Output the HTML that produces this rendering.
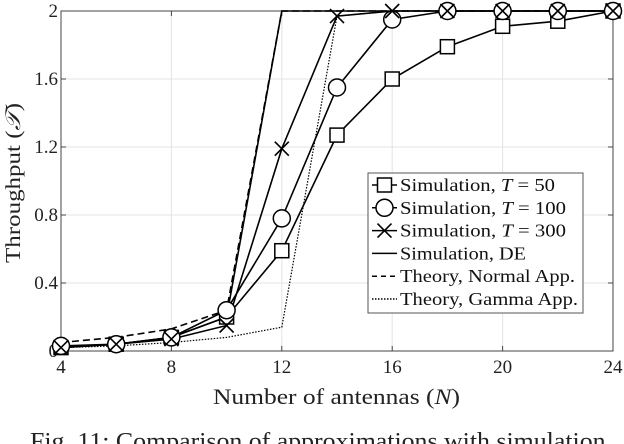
<!DOCTYPE html>
<html><head><meta charset="utf-8"><style>
body{margin:0;background:#fff;width:624px;height:444px;overflow:hidden}
svg{display:block;font-family:"Liberation Serif",serif}
</style></head><body>
<svg id="chart" width="624" height="444" viewBox="0 0 624 444"></svg>
<script>
const xCats=[4,6,8,10,12,14,16,18,20,22,24];
const simT50=[0.02,0.04,0.08,0.2,0.59,1.27,1.6,1.79,1.91,1.94,2];
const simT100=[0.03,0.04,0.08,0.24,0.78,1.55,1.95,2,2,2,2];
const simT300=[0.02,0.04,0.07,0.15,1.19,1.97,2,2,2,2,2];
const simDE=[0.02,0.04,0.08,0.2,2,2,2,2,2,2,2];
const theoryNormal=[0.05,0.08,0.13,0.24,2,2,2,2,2,2,2];
const theoryGamma=[0.02,0.03,0.05,0.08,0.14,1.97,2,2,2,2,2];
const xTicks=[4,8,12,16,20,24];
const yTicks=[0,0.4,0.8,1.2,1.6,2];
const yTickLabels=["0","0.4","0.8","1.2","1.6","2"];

const svg=document.getElementById('chart');
const NS='http://www.w3.org/2000/svg';
const L=61,R=613,T=11,B=351;
const xs=v=>L+(v-4)/20*(R-L);
const ys=v=>B-v/2*(B-T);
function mk(tag,attrs,parent){const e=document.createElementNS(NS,tag);for(const k in attrs)e.setAttribute(k,attrs[k]);(parent||svg).appendChild(e);return e;}

const grid=mk('g',{});


xTicks.forEach(v=>mk('line',{x1:xs(v),x2:xs(v),y1:T,y2:B,stroke:'#e3e3e3','stroke-width':1},grid));
yTicks.forEach(v=>mk('line',{x1:L,x2:R,y1:ys(v),y2:ys(v),stroke:'#e3e3e3','stroke-width':1},grid));

const axes=mk('g',{});


mk('rect',{x:L,y:T,width:R-L,height:B-T,fill:'none',stroke:'#444','stroke-width':1},axes);
xTicks.forEach(v=>{
 mk('line',{x1:xs(v),x2:xs(v),y1:B,y2:B-5,stroke:'#444'},axes);
 mk('line',{x1:xs(v),x2:xs(v),y1:T,y2:T+5,stroke:'#444'},axes);
 const t=mk('text',{x:xs(v),y:B+22,'text-anchor':'middle','font-size':19,fill:'#222'},axes);t.textContent=v;
 
 
});
yTicks.forEach((v,i)=>{
 mk('line',{x1:L,x2:L+5,y1:ys(v),y2:ys(v),stroke:'#444'},axes);
 mk('line',{x1:R,x2:R-5,y1:ys(v),y2:ys(v),stroke:'#444'},axes);
 const t=mk('text',{x:L-3,y:ys(v)+6,'text-anchor':'end','font-size':19,fill:'#222'},axes);t.textContent=yTickLabels[i];
 
 
});
const xt=mk('text',{x:213,y:404,'font-size':22,fill:'#222',textLength:247,lengthAdjust:'spacingAndGlyphs'});
xt.innerHTML='Number of antennas (<tspan font-style="italic">N</tspan>)';


const yt=mk('text',{x:0,y:0,transform:'translate(20,183) rotate(-90)','text-anchor':'middle','font-size':21,fill:'#222',textLength:160,lengthAdjust:'spacingAndGlyphs'});
yt.innerHTML='Throughput (<tspan font-style="italic">𝒯</tspan>)';


const cap=mk('text',{x:30,y:449,'font-size':24,fill:'#222',textLength:582,lengthAdjust:'spacingAndGlyphs'});
cap.textContent='Fig. 11: Comparison of approximations with simulation.';



function line(vals,dash,w,name){
 const p=mk('polyline',{points:vals.map((v,i)=>xs(xCats[i])+','+ys(v)).join(' '),fill:'none',stroke:'#000','stroke-width':w,'stroke-dasharray':dash||'none'});
 
 
}
function marker(kind,x,y,g){
 if(kind==='sq')mk('rect',{x:x-7,y:y-7,width:14,height:14,fill:'#fff',stroke:'#000','stroke-width':1.5},g);
 else if(kind==='ci')mk('circle',{cx:x,cy:y,r:8.5,fill:'#fff',stroke:'#000','stroke-width':1.5},g);
 else{mk('line',{x1:x-7,y1:y-7,x2:x+7,y2:y+7,stroke:'#000','stroke-width':1.6},g);mk('line',{x1:x-7,y1:y+7,x2:x+7,y2:y-7,stroke:'#000','stroke-width':1.6},g);}
}
line(theoryGamma,'1.5,1.5',1.2,'series-theory-gamma');
line(theoryNormal,'7,4',1.6,'series-theory-normal');
line(simDE,null,1.6,'series-sim-de');
line(simT50,null,1.6,'series-sim-t50');
line(simT100,null,1.6,'series-sim-t100');
line(simT300,null,1.6,'series-sim-t300');
[[simT50,'sq','t50'],[simT100,'ci','t100'],[simT300,'x','t300']].forEach(([vals,k,n])=>{
 vals.forEach((v,i)=>{
  const g=mk('g',{});
  
  
  marker(k,xs(xCats[i]),ys(v),g);
 });
});

const lg=mk('g',{});


mk('rect',{x:368,y:173,width:215,height:140,fill:'#fff',stroke:'#555','stroke-width':1},lg);
const items=[['sq','Simulation, <tspan font-style="italic">T</tspan> = 50',155],['ci','Simulation, <tspan font-style="italic">T</tspan> = 100',166],['x','Simulation, <tspan font-style="italic">T</tspan> = 300',166],['solid','Simulation, DE',126],['dash','Theory, Normal App.',175],['dot','Theory, Gamma App.',178]];
items.forEach((it,i)=>{
 const y=185+i*22.8;
 const g=mk('g',{},lg);
 
 
 const da=it[0]==='dash'?'5,4':it[0]==='dot'?'1.5,1.5':'none';
 mk('line',{x1:372,x2:397,y1:y,y2:y,stroke:'#000','stroke-width':1.5,'stroke-dasharray':da},g);
 if(['sq','ci','x'].includes(it[0]))marker(it[0],384.5,y,g);
 const t=mk('text',{x:400,y:y+6,'font-size':18,fill:'#111',textLength:it[2],lengthAdjust:'spacingAndGlyphs'},g);t.innerHTML=it[1];
});
</script>
</body></html>
